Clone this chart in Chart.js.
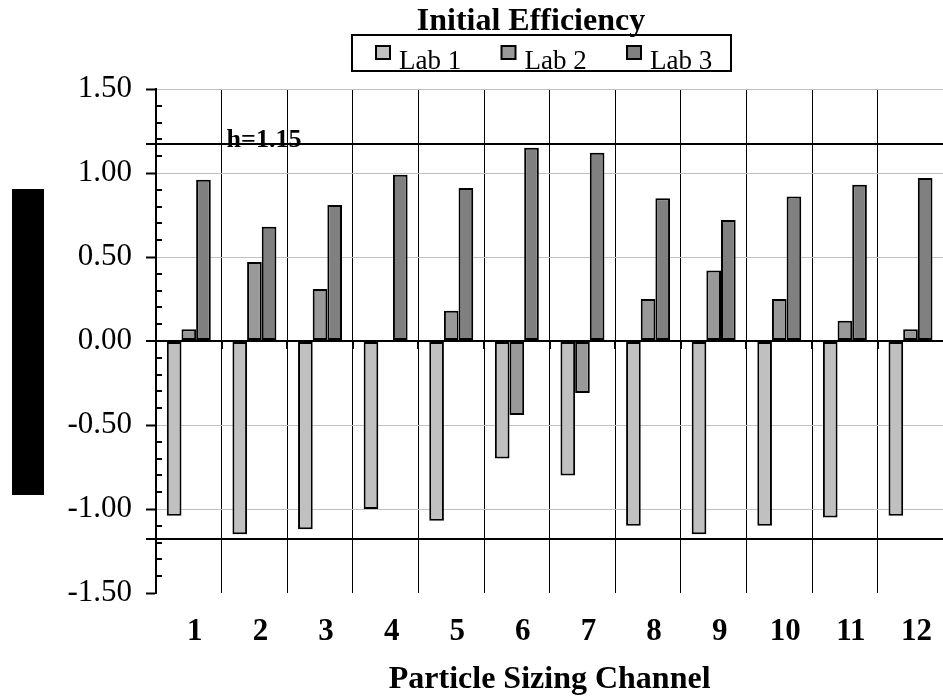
<!DOCTYPE html>
<html>
<head>
<meta charset="utf-8">
<script src="https://cdn.jsdelivr.net/npm/chart.js@4.4.0/dist/chart.umd.min.js"></script>
<style>
  html, body { margin: 0; padding: 0; background: #fff; overflow: hidden; }
  /* plot runs a few pixels past the right edge of the window, as in the original */
  #wrap { width: 946px; height: 696px; position: relative; }
</style>
</head>
<body>
<div id="wrap"><canvas id="effChart"></canvas></div>
<script>
// values
const channels = ['1', '2', '3', '4', '5', '6', '7', '8', '9', '10', '11', '12'];
const lab1 = [-1.04, -1.15, -1.12, -1.00, -1.07, -0.70, -0.80, -1.10, -1.15, -1.10, -1.05, -1.04];
const lab2 = [0.07, 0.47, 0.31, 0, 0.18, -0.44, -0.31, 0.25, 0.42, 0.25, 0.12, 0.07];
const lab3 = [0.96, 0.68, 0.81, 0.99, 0.91, 1.15, 1.12, 0.85, 0.72, 0.86, 0.93, 0.97];
const seriesNames = ['Lab 1', 'Lab 2', 'Lab 3'];
const seriesColors = ['#c0c0c0', '#999999', '#808080'];
const yMin = -1.5, yMax = 1.5, yStep = 0.5, yMinorStep = 0.1;
const hUpper = 1.17, hLower = -1.18;
const hLabel = 'h=1.15';
const chartTitle = 'Initial Efficiency';
const xTitle = 'Particle Sizing Channel';

const serif = "'Liberation Serif', 'Times New Roman', serif";

const decorations = {
    id: 'decorations',
    afterDraw(chart) {
        const { ctx, chartArea, scales } = chart;
        const y = scales.y, x = scales.x;
        ctx.save();

        // black block where the y title sits
        ctx.fillStyle = '#000';
        ctx.fillRect(12, 189, 32, 306);

        // minor ticks, inside the axis
        ctx.strokeStyle = '#000';
        ctx.lineWidth = 2;
        for (let i = 0; i <= Math.round((yMax - yMin) / yMinorStep); i++) {
            const v = yMin + i * yMinorStep;
            if (Math.abs(v / yStep - Math.round(v / yStep)) < 1e-6) continue;
            const py = Math.round(y.getPixelForValue(v));
            ctx.beginPath();
            ctx.moveTo(chartArea.left, py);
            ctx.lineTo(chartArea.left + 6, py);
            ctx.stroke();
        }

        // small category ticks under the zero line
        const zy = y.getPixelForValue(0);
        const catW = x.width / channels.length;
        for (let i = 1; i < channels.length; i++) {
            const px = Math.round(x.left + i * catW);
            ctx.beginPath();
            ctx.moveTo(px, zy);
            ctx.lineTo(px, zy + 8);
            ctx.stroke();
        }

        // h lines and label
        ctx.font = 'bold 26px ' + serif;
        ctx.fillStyle = '#000';
        ctx.textAlign = 'left';
        ctx.textBaseline = 'alphabetic';
        const hy = y.getPixelForValue(hUpper);
        ctx.fillText(hLabel, x.left + catW + 5, hy + 3);
        [hUpper, hLower].forEach(v => {
            const py = Math.round(y.getPixelForValue(v));
            ctx.beginPath();
            ctx.moveTo(chartArea.left - 10, py);
            ctx.lineTo(chartArea.right, py);
            ctx.stroke();
        });

        // title
        ctx.font = 'bold 32px ' + serif;
        ctx.textAlign = 'center';
        ctx.fillText(chartTitle, 531, 30);

        // legend box
        ctx.lineWidth = 2;
        ctx.strokeRect(352, 35, 379, 36);
        ctx.font = '27px ' + serif;
        ctx.textAlign = 'left';
        chart.data.datasets.forEach((ds, i) => {
            const bx = 376 + i * 125.5;
            ctx.fillStyle = ds.backgroundColor;
            ctx.fillRect(bx, 46, 14, 13);
            ctx.strokeRect(bx, 46, 14, 13);
            ctx.fillStyle = '#000';
            ctx.fillText(ds.label, bx + 23, 69);
        });

        ctx.restore();
    }
};

new Chart(document.getElementById('effChart'), {
    type: 'bar',
    data: {
        labels: channels,
        datasets: [lab1, lab2, lab3].map((values, i) => ({
            label: seriesNames[i],
            data: values,
            backgroundColor: seriesColors[i],
            borderColor: '#000',
            borderWidth: 2,
            borderSkipped: false,
            barPercentage: 1.0,
            categoryPercentage: 0.67
        }))
    },
    options: {
        responsive: true,
        maintainAspectRatio: false,
        animation: false,
        layout: { padding: { top: 89, left: 0, right: 0, bottom: 0 } },
        plugins: {
            legend: { display: false },
            title: { display: false },
            tooltip: { enabled: false }
        },
        scales: {
            x: {
                offset: true,
                afterFit: (scale) => { scale.height = 103; },
                grid: {
                    offset: true,
                    color: '#000',
                    lineWidth: 1,
                    drawTicks: false
                },
                border: { display: false },
                ticks: {
                    color: '#000',
                    font: { family: serif, size: 31, weight: 'bold' },
                    padding: 20,
                    labelOffset: 6,
                    maxRotation: 0,
                    autoSkip: false
                },
                title: {
                    display: true,
                    text: xTitle,
                    color: '#000',
                    font: { family: serif, size: 32, weight: 'bold', lineHeight: 1 },
                    padding: 0
                }
            },
            y: {
                min: yMin,
                max: yMax,
                afterFit: (scale) => { scale.width = 156; },
                grid: {
                    color: (c) => c.tick.value === 0 ? '#000' : (c.tick.value === yMin ? 'rgba(0,0,0,0)' : '#c0c0c0'),
                    lineWidth: (c) => c.tick.value === 0 ? 2 : 1,
                    tickColor: '#000',
                    tickWidth: 2,
                    tickLength: 10
                },
                border: { display: true, color: '#000', width: 2 },
                ticks: {
                    stepSize: yStep,
                    color: '#000',
                    font: { family: serif, size: 31 },
                    padding: 14,
                    callback: (v) => Number(v).toFixed(2)
                }
            }
        }
    },
    plugins: [decorations]
});
</script>
</body>
</html>
